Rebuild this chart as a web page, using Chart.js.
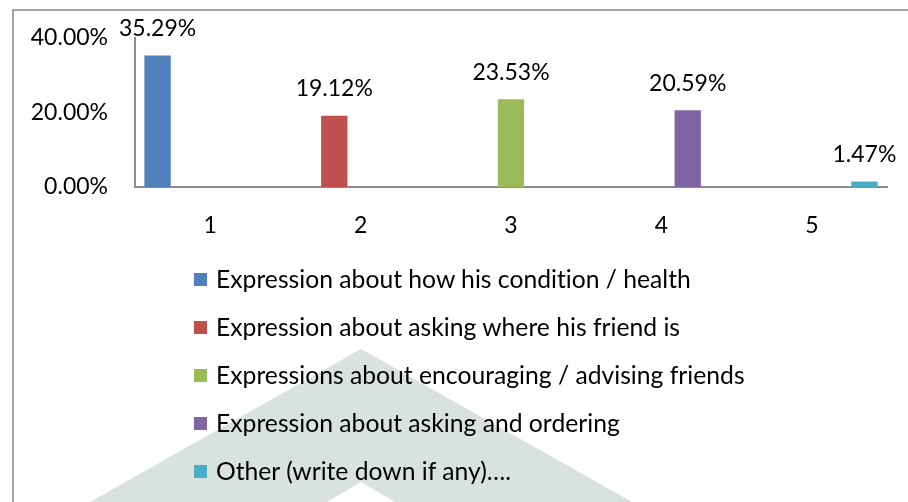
<!DOCTYPE html>
<html>
<head>
<meta charset="utf-8">
<script src="https://cdn.jsdelivr.net/npm/chart.js@4/dist/chart.umd.min.js"></script>
<style>
  body { margin: 0; background: #fff; width: 908px; height: 502px; overflow: hidden; position: relative; }
  #chart { position: absolute; left: 0; top: 0; }
  #frame { position: absolute; left: 12px; top: 9px; width: 1000px; height: 1000px;
    border-left: 2px solid #a3a3a3; border-top: 2px solid #a3a3a3; box-sizing: border-box; }
  #legend { position: absolute; left: 194px; top: 264px; font-family: Lato, sans-serif; font-size: 24.7px;
    color: #000; font-variant-ligatures: none; line-height: 30px; }
  #legend .item { height: 48px; display: flex; align-items: flex-start; }
  #legend .box { width: 13px; height: 13px; margin: 9px 9px 0 0; flex: none; }
</style>
</head>
<body>
<canvas id="chart" width="908" height="502"></canvas>
<div id="frame"></div>
<div id="legend"></div>
<script>
'use strict';
const categories = ['1', '2', '3', '4', '5'];
const seriesNames = [
  'Expression about how his condition / health',
  'Expression about asking where his friend is',
  'Expressions about encouraging / advising friends',
  'Expression about asking and ordering',
  'Other (write down if any)….',
];
const percentages = [35.29, 19.12, 23.53, 20.59, 1.47];
const seriesColors = ['#4f81bd', '#c0504d', '#9bbb59', '#8064a2', '#4bacc6'];
const yTicks = [0, 20, 40];

const FONT = 'Lato, sans-serif';

// each series only has a value in its own category
const datasets = seriesNames.map((name, i) => ({
  label: name,
  data: categories.map((c, j) => (j === i ? percentages[i] : null)),
  backgroundColor: seriesColors[i],
  borderWidth: 0,
}));

// faint background mark from the scanned page
const watermark = {
  id: 'watermark',
  beforeDraw(chart) {
    const ctx = chart.ctx;
    ctx.save();
    ctx.fillStyle = '#fff';
    ctx.fillRect(0, 0, chart.width, chart.height);
    ctx.fillStyle = '#dae2df';
    ctx.beginPath();
    ctx.moveTo(361, 349);
    ctx.lineTo(632, 502);
    ctx.lineTo(395, 502);
    ctx.lineTo(361, 482);
    ctx.lineTo(327, 502);
    ctx.lineTo(90, 502);
    ctx.closePath();
    ctx.fill();
    ctx.restore();
  },
};

const valueLabels = {
  id: 'valueLabels',
  afterDatasetsDraw(chart) {
    const ctx = chart.ctx;
    ctx.save();
    ctx.font = '23px ' + FONT;
    ctx.fillStyle = '#000';
    ctx.textAlign = 'center';
    ctx.textBaseline = 'middle';
    chart.data.datasets.forEach((ds, i) => {
      const meta = chart.getDatasetMeta(i);
      ds.data.forEach((v, j) => {
        if (v == null) return;
        const bar = meta.data[j];
        ctx.fillText(v.toFixed(2) + '%', bar.x, bar.y - 27);
      });
    });
    ctx.restore();
  },
};

const chart = new Chart(document.getElementById('chart').getContext('2d'), {
  type: 'bar',
  data: { labels: categories, datasets: datasets },
  options: {
    responsive: false,
    animation: false,
    layout: { padding: { left: 0, top: 38, right: 21, bottom: 235 } },
    plugins: { legend: { display: false }, tooltip: { enabled: false } },
    datasets: { bar: { categoryPercentage: 0.875, barPercentage: 1.0 } },
    scales: {
      x: {
        grid: { display: false },
        border: { display: true, color: '#8c8c8c', width: 2 },
        ticks: { color: '#000', font: { family: FONT, size: 23 }, padding: 17 },
        afterFit(scale) { scale.height = 80; },
      },
      y: {
        min: 0,
        max: 40,
        afterBuildTicks(scale) { scale.ticks = yTicks.map(v => ({ value: v })); },
        grid: { display: false },
        border: { display: true, color: '#8c8c8c', width: 2 },
        ticks: {
          color: '#000',
          font: { family: FONT, size: 23 },
          padding: 19,
          callback: v => v.toFixed(2) + '%',
        },
        afterFit(scale) { scale.width = 135; },
      },
    },
  },
  plugins: [watermark, valueLabels],
});

const legendEl = document.getElementById('legend');
chart.data.datasets.forEach(ds => {
  const item = document.createElement('div');
  item.className = 'item';
  const box = document.createElement('span');
  box.className = 'box';
  box.style.background = ds.backgroundColor;
  const text = document.createElement('span');
  text.textContent = ds.label;
  item.appendChild(box);
  item.appendChild(text);
  legendEl.appendChild(item);
});
</script>
</body>
</html>
